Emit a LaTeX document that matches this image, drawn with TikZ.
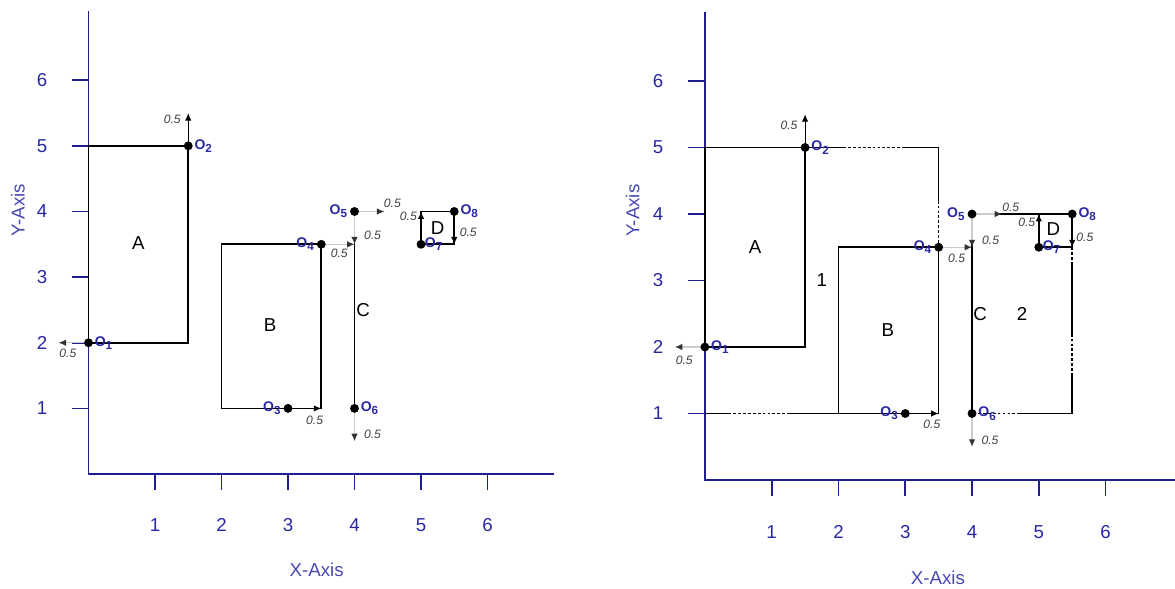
\documentclass[tikz,border=0pt]{standalone}
\usepackage{fontspec}
\setmainfont{Liberation Sans}
\usetikzlibrary{arrows.meta}
\definecolor{axisblue}{RGB}{30,30,145}
\definecolor{lblblue}{RGB}{40,40,165}

\begin{document}
\begin{tikzpicture}[font=\footnotesize,
  ax/.style={draw=axisblue, line width=0.7pt},
  edge/.style={draw=black, line width=0.7pt},
  gap/.style={draw=black, line width=0.7pt, dash pattern=on 1.2pt off 0.9pt},
  mv/.style={draw=gray!40, line width=0.5pt, -{Latex[length=3.2pt,width=2.8pt,color=black!80]}},
  mvk/.style={draw=black, line width=0.5pt, -{Latex[length=3.2pt,width=2.8pt]}},
  dot/.style={circle, fill=black, inner sep=0pt, minimum size=3.8pt},
  pt/.style={text=lblblue, inner sep=0.5pt, font=\fontsize{6}{7}\selectfont\bfseries},
  len/.style={font=\fontsize{5.2}{6}\selectfont\itshape, text=black!75, inner sep=0pt},
  tick/.style={text=lblblue},
  axlab/.style={text=lblblue!85}]
\useasboundingbox (0,0) rectangle (17.669,8.842);

% ---------------- left: objects before compaction
\begin{scope}[shift={(1.331,1.714)}, yscale=0.987]
\coordinate (Lorg) at (0,0);
\coordinate (Lytop) at (0,7.05);
\coordinate (Lxend) at (7,0);
\draw[ax] (Lytop) -- (Lorg) -- (Lxend);
\foreach \i in {1,...,6} {
  \draw[ax] (-0.25,\i) -- (0,\i);
  \draw[ax] (\i,0) -- (\i,-0.24);
  \node[tick] (Lyt\i) at (-0.7,\i) {\i};
  \node[tick] (Lxt\i) at (\i,-0.78) {\i};
}
\node[axlab] (Lxlab) at (3.43,-1.46) {X-Axis};
\node[axlab, rotate=90] (Lylab) at (-1.06,4.02) {Y-Axis};

\coordinate (Lo1) at (0,2);
\coordinate (Lo2) at (1.5,5);
\coordinate (Lo3) at (3,1);
\coordinate (Lo4) at (3.5,3.5);
\coordinate (Lo5) at (4,4);
\coordinate (Lo6) at (4,1);
\coordinate (Lo7) at (5,3.5);
\coordinate (Lo8) at (5.5,4);
\coordinate (LB) at (2,1);
% arrow ends
\coordinate (Lm1) at (-0.45,2);
\coordinate (Lm2) at (1.5,5.5);
\coordinate (Lm3) at (3.5,1);
\coordinate (Lm4) at (4,3.5);
\coordinate (Lm5) at (4.45,4);
\coordinate (Lm6) at (4,3.5);
\coordinate (Lm7) at (4,0.5);
\coordinate (Lm8) at (5,4);
\coordinate (Lm9) at (5.5,3.5);

\draw[edge] (Lo1) rectangle (Lo2);
\draw[edge] (LB) rectangle (Lo4);
\draw[edge] (Lo5) -- (Lo6);
\draw[edge] (Lo7) rectangle (Lo8);

\draw[mv] (Lo1) -- (Lm1);
\draw[mvk] (Lo2) -- (Lm2);
\draw[mvk] (Lo3) -- (Lm3);
\draw[mv] (Lo4) -- (Lm4);
\draw[mv] (Lo5) -- (Lm5);
\draw[mv] (Lo5) -- (Lm6);
\draw[mv] (Lo6) -- (Lm7);
\draw[mvk] (Lo7) -- (Lm8);
\draw[mvk] (Lo8) -- (Lm9);

\node[len] (Ll1) at (-0.31,1.84) {0.5};
\node[len] (Ll2) at (1.26,5.4) {0.5};
\node[len] (Ll3) at (3.4,0.82) {0.5};
\node[len] (Ll4) at (3.77,3.37) {0.5};
\node[len] (Ll5) at (4.57,4.13) {0.5};
\node[len] (Ll6) at (4.27,3.63) {0.5};
\node[len] (Ll7) at (4.27,0.6) {0.5};
\node[len] (Ll8) at (4.81,3.92) {0.5};
\node[len] (Ll9) at (5.71,3.69) {0.5};

\foreach \p in {1,...,8} \node[dot] (Ld\p) at (Lo\p) {};
\node[pt, right=2pt] (Lt1) at (Lo1) {O\textsubscript{1}};
\node[pt, right=2pt] (Lt2) at (Lo2) {O\textsubscript{2}};
\node[pt, left=2pt] (Lt3) at (Lo3) {O\textsubscript{3}};
\node[pt, left=2pt] (Lt4) at (Lo4) {O\textsubscript{4}};
\node[pt, left=2pt] (Lt5) at (Lo5) {O\textsubscript{5}};
\node[pt, right=2pt] (Lt6) at (Lo6) {O\textsubscript{6}};
\node[pt, right=1pt] (Lt7) at (Lo7) {O\textsubscript{7}};
\node[pt, right=2pt] (Lt8) at (Lo8) {O\textsubscript{8}};

\node (LA) at (0.75,3.52) {A};
\node (LBl) at (2.73,2.27) {B};
\node (LC) at (4.13,2.5) {C};
\node (LD) at (5.25,3.75) {D};
\end{scope}

% ---------------- right: after compaction, free regions 1 and 2
\begin{scope}[shift={(10.60,1.624)}, xscale=1.004]
\coordinate (Rorg) at (0,0);
\coordinate (Rytop) at (0,7.03);
\coordinate (Rxend) at (7.06,0);
\draw[ax] (Rytop) -- (Rorg) -- (Rxend);
\foreach \i in {1,...,6} {
  \draw[ax] (-0.25,\i) -- (0,\i);
  \draw[ax] (\i,0) -- (\i,-0.24);
  \node[tick] (Ryt\i) at (-0.7,\i) {\i};
  \node[tick] (Rxt\i) at (\i,-0.78) {\i};
}
\node[axlab] (Rxlab) at (3.49,-1.47) {X-Axis};
\node[axlab, rotate=90] (Rylab) at (-1.08,4.05) {Y-Axis};

\coordinate (Ro1) at (0,2);
\coordinate (Ro2) at (1.5,5);
\coordinate (Ro3) at (3,1);
\coordinate (Ro4) at (3.5,3.5);
\coordinate (Ro5) at (4,4);
\coordinate (Ro6) at (4,1);
\coordinate (Ro7) at (5,3.5);
\coordinate (Ro8) at (5.5,4);
\coordinate (RB) at (2,1);
% region boundaries
\coordinate (Rq1) at (2.07,5);
\coordinate (Rq2) at (3.0,5);
\coordinate (Rq3) at (3.5,5);
\coordinate (Rq4) at (3.5,4.2);
\coordinate (Rq5) at (0,1);
\coordinate (Rq6) at (0.35,1);
\coordinate (Rq7) at (1.27,1);
\coordinate (Rs1) at (4.37,4);
\coordinate (Rs2) at (5.5,3.27);
\coordinate (Rs3) at (5.5,2.2);
\coordinate (Rs4) at (5.5,1.6);
\coordinate (Rs5) at (5.5,1);
\coordinate (Rs6) at (4.72,1);
% arrow ends
\coordinate (Rm1) at (-0.45,2);
\coordinate (Rm2) at (1.5,5.5);
\coordinate (Rm3) at (3.5,1);
\coordinate (Rm4) at (4,3.5);
\coordinate (Rm5) at (4.45,4);
\coordinate (Rm6) at (4,3.5);
\coordinate (Rm7) at (4,0.5);
\coordinate (Rm8) at (5,4);
\coordinate (Rm9) at (5.5,3.5);

\draw[edge] (Ro1) rectangle (Ro2);
\draw[edge] (RB) rectangle (Ro4);
\draw[edge] (Ro5) -- (Ro6);
\draw[edge] (Ro7) rectangle (Ro8);

\draw[edge] (Ro2) -- (Rq1);
\draw[gap] (Rq1) -- (Rq2);
\draw[edge] (Rq2) -- (Rq3) -- (Rq4);
\draw[gap] (Rq4) -- (Ro4);
\draw[edge] (Rq5) -- (Rq6);
\draw[gap] (Rq6) -- (Rq7);
\draw[edge] (Rq7) -- (RB);
\draw[gap] (Ro5) -- (Rs1);
\draw[edge] (Rs1) -- (Ro8);
\draw[gap] (Rm9) -- (Rs2);
\draw[edge] (Rs2) -- (Rs3);
\draw[gap] (Rs3) -- (Rs4);
\draw[edge] (Rs4) -- (Rs5) -- (Rs6);
\draw[gap] (Rs6) -- (Ro6);

\draw[mv] (Ro1) -- (Rm1);
\draw[mvk] (Ro2) -- (Rm2);
\draw[mvk] (Ro3) -- (Rm3);
\draw[mv] (Ro4) -- (Rm4);
\draw[mv] (Ro5) -- (Rm5);
\draw[mv] (Ro5) -- (Rm6);
\draw[mv] (Ro6) -- (Rm7);
\draw[mvk] (Ro7) -- (Rm8);
\draw[mvk] (Ro8) -- (Rm9);

\node[len] (Rl1) at (-0.31,1.80) {0.5};
\node[len] (Rl2) at (1.26,5.33) {0.5};
\node[len] (Rl3) at (3.4,0.83) {0.5};
\node[len] (Rl4) at (3.77,3.33) {0.5};
\node[len] (Rl5) at (4.58,4.1) {0.5};
\node[len] (Rl6) at (4.28,3.6) {0.5};
\node[len] (Rl7) at (4.27,0.6) {0.5};
\node[len] (Rl8) at (4.82,3.87) {0.5};
\node[len] (Rl9) at (5.69,3.65) {0.5};

\foreach \p in {1,...,8} \node[dot] (Rd\p) at (Ro\p) {};
\node[pt, right=2pt] (Rt1) at (Ro1) {O\textsubscript{1}};
\node[pt, right=2pt] (Rt2) at (Ro2) {O\textsubscript{2}};
\node[pt, left=2pt] (Rt3) at (Ro3) {O\textsubscript{3}};
\node[pt, left=2pt] (Rt4) at (Ro4) {O\textsubscript{4}};
\node[pt, left=2pt] (Rt5) at (Ro5) {O\textsubscript{5}};
\node[pt, right=2pt] (Rt6) at (Ro6) {O\textsubscript{6}};
\node[pt, right=1pt] (Rt7) at (Ro7) {O\textsubscript{7}};
\node[pt, right=2pt] (Rt8) at (Ro8) {O\textsubscript{8}};

\node (RA) at (0.75,3.5) {A};
\node (R1) at (1.75,3.0) {1};
\node (RBl) at (2.74,2.25) {B};
\node (RC) at (4.12,2.5) {C};
\node (R2) at (4.75,2.5) {2};
\node (RD) at (5.22,3.78) {D};
\end{scope}
\end{tikzpicture}
\end{document}
